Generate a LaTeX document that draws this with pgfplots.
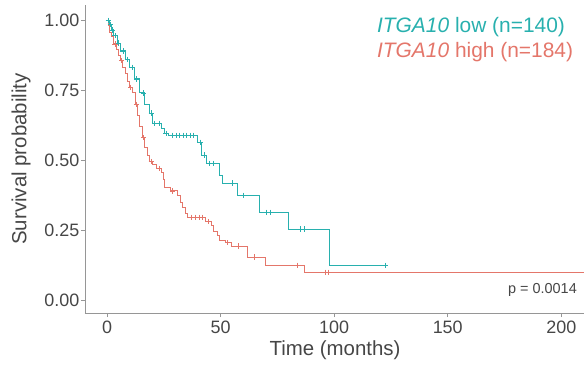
\documentclass[border=0pt]{standalone}
\usepackage{pgfplots}
\pgfplotsset{compat=1.18}
\usepackage{fontspec}
\setmainfont{Liberation Sans}
\definecolor{lowc}{RGB}{40,176,174}
\definecolor{highc}{RGB}{228,118,106}
\definecolor{axgray}{RGB}{150,150,150}
\definecolor{txtgray}{RGB}{70,70,70}
\begin{document}
\begin{tikzpicture}
\begin{axis}[
  name=ax,
  scale only axis,
  width=499bp, height=308bp,
  xmin=-9.7, xmax=210,
  ymin=-0.046, ymax=1.054,
  axis x line*=bottom, axis y line*=left,
  axis line style={axgray, line width=0.8bp},
  xtick={0,50,100,150,200},
  ytick={0,0.25,0.5,0.75,1},
  tick align=outside,
  major tick length=4bp,
  tick style={axgray, line width=0.8bp},
  /pgf/number format/assume math mode=true,
  tick label style={font=\fontsize{18}{20}\selectfont, text=txtgray},
  yticklabel style={/pgf/number format/fixed, /pgf/number format/fixed zerofill, /pgf/number format/precision=2, inner xsep=1.5bp},
  xlabel={Time (months)},
  ylabel={Survival probability},
  every axis x label/.style={at={(rel axis cs:0.501,0)}, yshift=-37bp, anchor=center, font=\fontsize{20.5}{24}\selectfont, text=txtgray},
  every axis y label/.style={at={(rel axis cs:0,0.5)}, xshift=-64bp, rotate=90, anchor=center, font=\fontsize{20.5}{24}\selectfont, text=txtgray},
  clip=false,
]
% ITGA10 low
\addplot[const plot, lowc, line width=1bp] coordinates {
(0,1.0)(1,0.985)(2,0.965)(3,0.945)(4.4,0.918)(6,0.89)(8,0.86)(10,0.832)(12,0.79)(14.5,0.74)(16.7,0.70)(18.9,0.668)(20.2,0.632)(24.2,0.614)(25.5,0.596)(27,0.589)(40,0.564)(41.8,0.518)(44,0.489)(49.7,0.446)(51,0.418)(57.6,0.375)(67.3,0.314)(80,0.254)(98.1,0.125)(122.7,0.125)
};
% ITGA10 high
\addplot[const plot, highc, line width=1bp] coordinates {
(0,1.0)(0.5,0.98)(1.3,0.957)(2,0.94)(3,0.915)(4,0.895)(5,0.875)(6,0.855)(7,0.832)(8,0.81)(9.2,0.78)(10,0.76)(11.4,0.74)(12.5,0.70)(13.5,0.66)(14.5,0.62)(15.4,0.58)(16.5,0.545)(17.6,0.515)(18.9,0.495)(20,0.485)(22,0.47)(24.2,0.454)(25,0.43)(25.5,0.404)(28,0.39)(31.2,0.375)(32.5,0.35)(33.4,0.332)(34.5,0.31)(35.6,0.296)(43.5,0.28)(46,0.265)(47,0.245)(48.5,0.23)(49.7,0.214)(52,0.205)(55,0.193)(61.8,0.154)(69.8,0.125)(87,0.10)(210,0.10)
};
% censor marks low
\addplot[only marks, mark=+, mark size=2.6bp, lowc, mark options={line width=0.8bp}] coordinates {
(0.5,1.0)(1.5,0.985)(2.5,0.965)(3.5,0.945)(5,0.918)(7,0.89)(9,0.86)(11,0.832)(13,0.79)(16,0.74)(19.5,0.668)(21,0.632)(23,0.632)(26,0.596)(29,0.589)(30.5,0.589)(32,0.589)(33.5,0.589)(35,0.589)(36.5,0.589)(38,0.589)(41,0.564)(43,0.518)(45,0.489)(47,0.489)(55,0.418)(60,0.375)(70,0.314)(72,0.314)(85,0.254)(87,0.254)(122.7,0.125)
};
% censor marks high
\addplot[only marks, mark=+, mark size=2.6bp, highc, mark options={line width=0.8bp}] coordinates {
(3.5,0.915)(6.5,0.855)(10.5,0.76)(13,0.70)(16,0.58)(19.5,0.495)(23,0.47)(29,0.39)(37,0.296)(39,0.296)(40.5,0.296)(42,0.296)(44.5,0.28)(53,0.205)(58,0.193)(65,0.154)(84,0.125)(96,0.10)(97.5,0.10)
};
\node[anchor=west, text=lowc, font=\fontsize{21}{24}\selectfont, inner sep=0pt] at (rel axis cs:0.585,0.9286) {\textit{ITGA10} low (n=140)};
\node[anchor=west, text=highc, font=\fontsize{21}{24}\selectfont, inner sep=0pt] at (rel axis cs:0.585,0.847) {\textit{ITGA10} high (n=184)};
\node[anchor=east, text=txtgray, font=\fontsize{14.5}{16}\selectfont, inner sep=0pt] at (rel axis cs:0.986,0.0747) {p = 0.0014};
\end{axis}
\pgfresetboundingbox
\path[use as bounding box] ([shift={(-85bp,-52bp)}]ax.south west) rectangle ([shift={(0bp,5bp)}]ax.north east);
\end{tikzpicture}
\end{document}
